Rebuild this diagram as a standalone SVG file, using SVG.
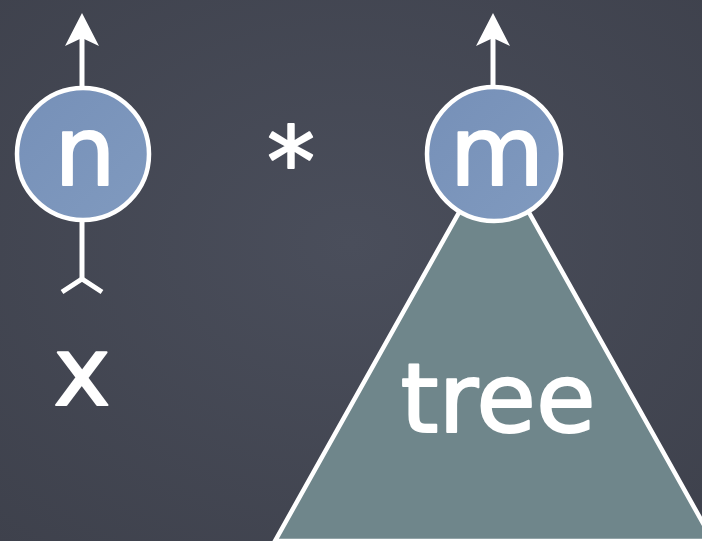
<svg xmlns="http://www.w3.org/2000/svg" width="702" height="541" viewBox="0 0 702 541">
  <defs>
    <radialGradient id="bg" cx="50%" cy="45%" r="75%">
      <stop offset="0" stop-color="#4a4e5b"/>
      <stop offset="1" stop-color="#3e414c"/>
    </radialGradient>
    <linearGradient id="nodeFill" x1="0" y1="0" x2="1" y2="1">
      <stop offset="0" stop-color="#7690b8"/>
      <stop offset="1" stop-color="#809abf"/>
    </linearGradient>
  </defs>
  <style>
    .ln { stroke: #ffffff; stroke-width: 5; fill: none; }
    .head { fill: #ffffff; stroke: none; }
    .node { fill: url(#nodeFill); stroke: #ffffff; stroke-width: 4.5; }
    .tri { fill: #6f868b; stroke: #ffffff; stroke-width: 4.5; stroke-linejoin: miter; }
    .lbl { font-family: "DejaVu Sans", "Noto Sans", sans-serif; fill: #ffffff; stroke: #ffffff; stroke-width: 2; stroke-linejoin: round; text-anchor: middle; }
  </style>
  <rect x="0" y="0" width="702" height="541" fill="url(#bg)"/>

  <g id="tree">
    <polygon class="tri" points="494,150 275,541 713,541"/>
    <text class="lbl" x="498" y="432" font-size="97">tree</text>
  </g>

  <g id="connectors">
    <line class="ln" x1="82" y1="87" x2="82" y2="36"/>
    <path class="head" d="M82,13 L99,46 L82,38 L65,46 Z"/>
    <line class="ln" x1="82" y1="220" x2="82" y2="280"/>
    <path class="ln" d="M62,292 L82,279 L102,292" stroke-linecap="butt"/>
    <line class="ln" x1="493" y1="86" x2="493" y2="36"/>
    <path class="head" d="M493,13 L510,46 L493,38 L476,46 Z"/>
  </g>

  <g id="node-n">
    <circle class="node" cx="83" cy="154" r="66"/>
    <text class="lbl" x="85" y="185" font-size="97">n</text>
  </g>

  <g id="node-m">
    <circle class="node" cx="494" cy="154" r="67"/>
    <text class="lbl" x="497" y="185" font-size="97">m</text>
  </g>

  <g id="label-star">
    <text class="lbl" x="291" y="196" font-size="96">*</text>
  </g>

  <g id="label-x">
    <text class="lbl" x="82" y="405" font-size="97">x</text>
  </g>
</svg>
